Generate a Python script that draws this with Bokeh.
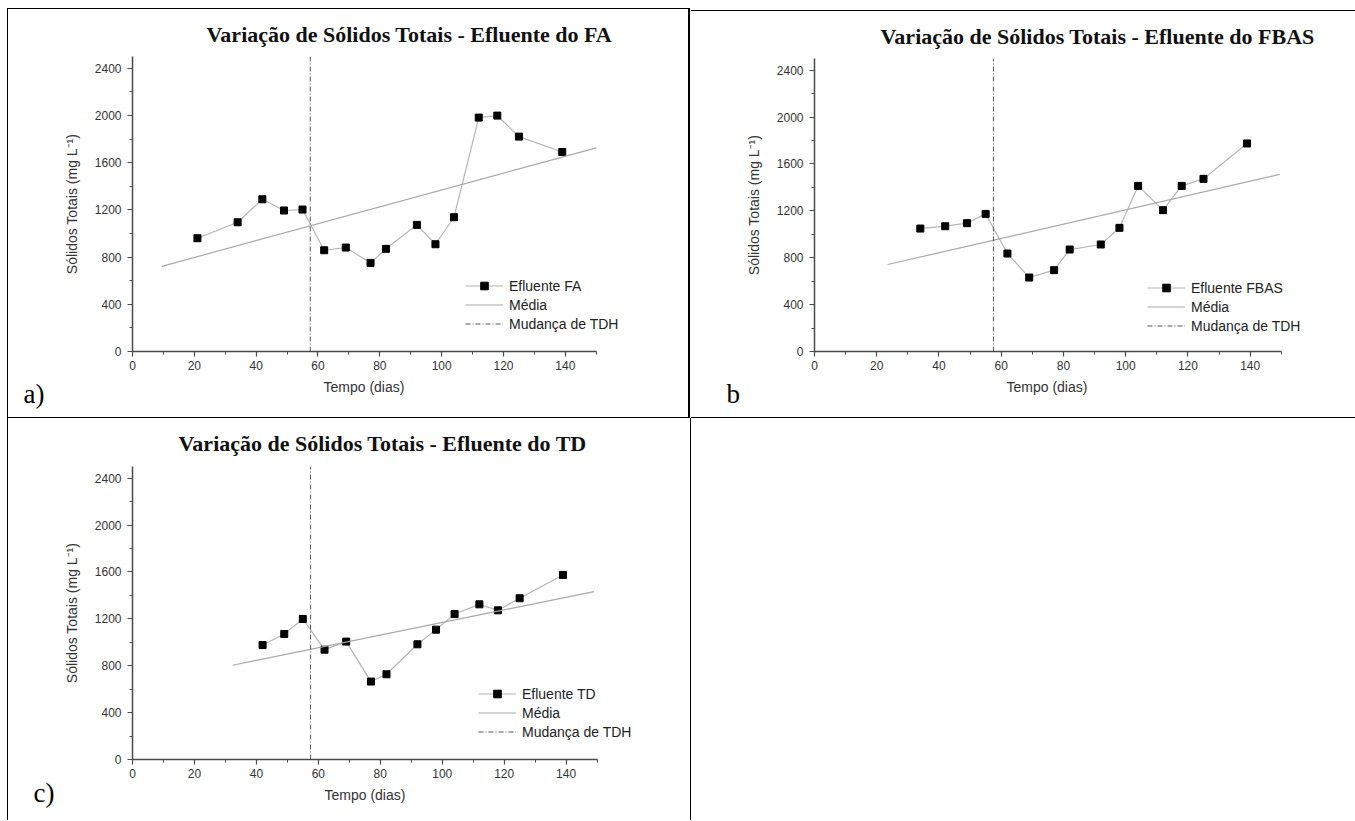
from bokeh.plotting import figure
from bokeh.models import FixedTicker, Legend, LegendItem, Range1d, Title
from bokeh.layouts import row, column
from bokeh.embed import file_html
from bokeh.resources import INLINE

# ---------------- data ----------------
days_fa = [21, 34, 42, 49, 55, 62, 69, 77, 82, 92, 98, 104, 112, 118, 125, 139]
st_fa = [960, 1095, 1290, 1195, 1203, 858, 881, 751, 870, 1073, 909, 1138, 1982, 1999, 1821, 1691]
media_fa_x = [9.5, 150]
media_fa_y = [722, 1726]

days_fbas = [34, 42, 49, 55, 62, 69, 77, 82, 92, 98, 104, 112, 118, 125, 139]
st_fbas = [1049, 1069, 1095, 1174, 836, 631, 694, 870, 913, 1055, 1413, 1206, 1413, 1473, 1775]
media_fbas_x = [23.5, 149.5]
media_fbas_y = [742, 1511]

days_td = [42, 49, 55, 62, 69, 77, 82, 92, 98, 104, 112, 118, 125, 139]
st_td = [977, 1071, 1199, 937, 1006, 665, 727, 983, 1108, 1241, 1324, 1273, 1376, 1575]
media_td_x = [32.3, 149]
media_td_y = [804, 1433]

tdh_change = 57.5
x_max = 150
y_max = 2500
x_major = [0, 20, 40, 60, 80, 100, 120, 140]
x_minor = [0, 10, 20, 30, 40, 50, 60, 70, 80, 90, 100, 110, 120, 130, 140, 150]
y_major = [0, 400, 800, 1200, 1600, 2000, 2400]
y_minor = [0, 200, 400, 600, 800, 1000, 1200, 1400, 1600, 1800, 2000, 2200, 2400]

titles = ["Variação de Sólidos Totais - Efluente do FA",
          "Variação de Sólidos Totais - Efluente do FBAS",
          "Variação de Sólidos Totais - Efluente do TD"]
series_names = ["Efluente FA", "Efluente FBAS", "Efluente TD"]
panel_tags = ["a)", "b", "c)"]
x_label = "Tempo (dias)"
y_label = "Sólidos Totais (mg L⁻¹)"

AX = "#4a4a4a"
TXT = "#333333"


def make_panel(title, tag, name, xs, ys, mx, my, w, h, bl, bt, br, bb, x_end,
               title_off, title_standoff, leg_loc, xlab_off, xlab_standoff,
               tag_off, tag_standoff, styles, margin=None):
    kw = {}
    if margin is not None:
        kw["margin"] = margin
    p = figure(width=w, height=h, output_backend="svg", toolbar_location=None,
               x_range=Range1d(0, x_end), y_range=Range1d(0, y_max),
               min_border_left=bl, min_border_top=bt, min_border_right=br,
               min_border_bottom=bb, styles=styles, **kw)
    p.outline_line_color = None
    p.xgrid.visible = False
    p.ygrid.visible = False

    p.title.text = title
    p.title.align = "left"
    p.title.offset = title_off
    p.title.text_font = "Liberation Serif"
    p.title.text_font_size = "22px"
    p.title.text_font_style = "bold"
    p.title.text_color = "#111111"
    p.title.standoff = title_standoff

    p.xaxis.ticker = FixedTicker(ticks=x_major, minor_ticks=x_minor)
    p.yaxis.ticker = FixedTicker(ticks=y_major, minor_ticks=y_minor)
    p.xaxis.bounds = (0, x_max)
    p.yaxis.bounds = (0, y_max)
    p.yaxis.axis_label = y_label
    for ax in (p.xaxis, p.yaxis):
        ax.axis_line_color = AX
        ax.axis_line_width = 1.5
        ax.major_tick_line_color = AX
        ax.major_tick_line_width = 1.2
        ax.minor_tick_line_color = AX
        ax.major_tick_in = 0
        ax.major_tick_out = 5
        ax.minor_tick_in = 0
        ax.minor_tick_out = 3
        ax.major_label_text_font = "Liberation Sans"
        ax.major_label_text_font_size = "12px"
        ax.major_label_text_color = TXT
        ax.axis_label_text_font = "Liberation Sans"
        ax.axis_label_text_font_size = "14px"
        ax.axis_label_text_font_style = "normal"
        ax.axis_label_text_color = TXT
    p.xaxis.major_label_standoff = 4
    p.yaxis.major_label_standoff = 6
    p.yaxis.axis_label_standoff = 12

    # x-axis title, centred under the 0-150 part of the axis
    p.add_layout(Title(text=x_label, align="left", offset=xlab_off, vertical_align="top",
                       standoff=xlab_standoff, text_font="Liberation Sans",
                       text_font_size="14px", text_font_style="normal",
                       text_color=TXT), "below")

    r_line = p.line(xs, ys, line_color="#b4b4b4", line_width=1.2)
    r_pts = p.scatter(xs, ys, marker="square", size=7, fill_color="black",
                      line_color="black")
    r_med = p.line(mx, my, line_color="#a8a8a8", line_width=1.2)
    r_tdh = p.line([tdh_change, tdh_change], [0, y_max], line_color="#555555",
                   line_width=1, line_dash="5 2 1 2")

    leg = Legend(items=[LegendItem(label=name, renderers=[r_line, r_pts]),
                        LegendItem(label="Média", renderers=[r_med]),
                        LegendItem(label="Mudança de TDH", renderers=[r_tdh])],
                 location=leg_loc, padding=0, margin=0, spacing=0,
                 glyph_width=38, glyph_height=19, label_height=19,
                 label_standoff=6, border_line_color=None,
                 background_fill_alpha=0, label_text_font="Liberation Sans",
                 label_text_font_size="14px", label_text_color="#222222")
    p.add_layout(leg, "center")

    p.add_layout(Title(text=tag, align="left", offset=tag_off, vertical_align="top",
                       standoff=tag_standoff, text_font="Liberation Serif",
                       text_font_size="27px", text_font_style="normal",
                       text_color="black"), "below")
    return p


pa = make_panel(titles[0], panel_tags[0], series_names[0], days_fa, st_fa,
                media_fa_x, media_fa_y, 683, 410, 124, 47, 18, 68, 175, 74, 20,
                (333, 18), 191, 12, -109, -48,
                {"border-left": "1px solid black", "border-top": "1px solid black",
                 "border-right": "2px solid black", "border-bottom": "1px solid black",
                 "box-sizing": "border-box"})
pb = make_panel(titles[1], panel_tags[1], series_names[1], days_fbas, st_fbas,
                media_fbas_x, media_fbas_y, 664, 408, 123, 47, 12, 68, 170, 66, 20,
                (333, 16), 192, 12, -88, -48,
                {"border-top": "1px solid black", "border-bottom": "1px solid black",
                 "box-sizing": "border-box"}, margin=(2, 0, 0, 0))
pc = make_panel(titles[2], panel_tags[2], series_names[2], days_td, st_td,
                media_td_x, media_td_y, 684, 402, 124, 48, 16, 61, 175, 46, 21,
                (346, 18), 192, 12, -99, -66,
                {"border-left": "1px solid black", "border-right": "1px solid black",
                 "box-sizing": "border-box"})

layout = row(column(pa, pc, spacing=0), pb, spacing=0, margin=(8, 0, 0, 7))

with open("out.html", "w") as f:
    f.write(file_html(layout, INLINE))
